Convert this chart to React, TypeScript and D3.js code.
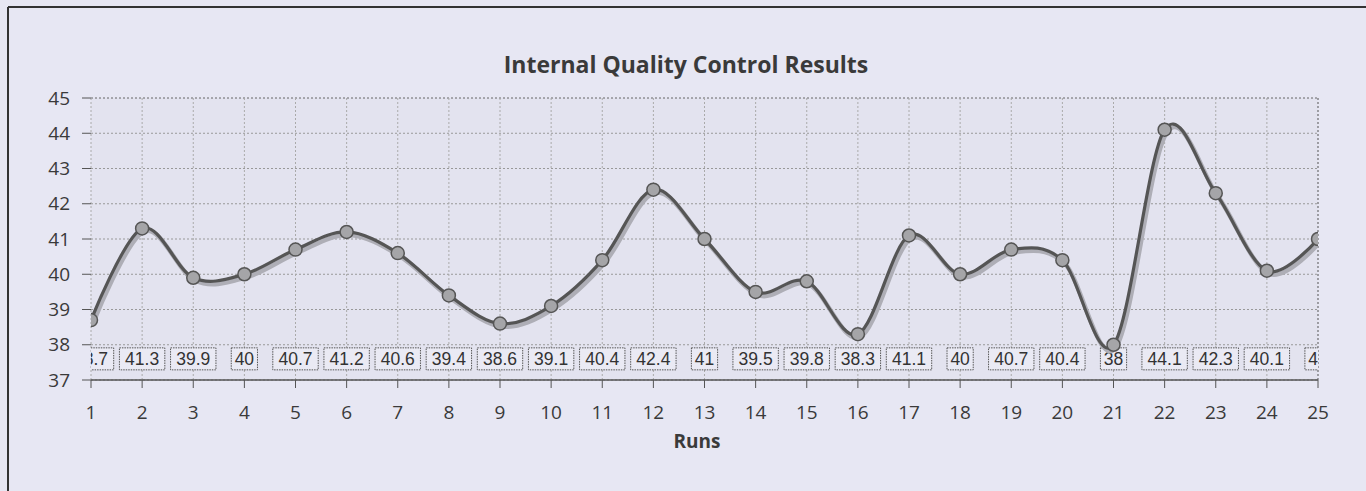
import React from "react";
import * as d3 from "d3";

const runs = [1, 2, 3, 4, 5, 6, 7, 8, 9, 10, 11, 12, 13, 14, 15, 16, 17, 18, 19, 20, 21, 22, 23, 24, 25];
const results = [38.7, 41.3, 39.9, 40, 40.7, 41.2, 40.6, 39.4, 38.6, 39.1, 40.4, 42.4, 41, 39.5, 39.8, 38.3, 41.1, 40, 40.7, 40.4, 38, 44.1, 42.3, 40.1, 41];
const yTicks = [37, 38, 39, 40, 41, 42, 43, 44, 45];
const title = "Internal Quality Control Results";
const xTitle = "Runs";

const width = 1366;
const height = 491;
const margin = { left: 91, right: 48, top: 98, bottom: 111 };

const App = () => {
    const x = d3.scaleLinear().domain([1, 25]).range([margin.left, width - margin.right]);
    const y = d3.scaleLinear().domain([37, 45]).range([height - margin.bottom, margin.top]);
    const line = d3
        .line<number>()
        .x((_, i) => x(runs[i]))
        .y((d) => y(d))
        .curve(d3.curveCatmullRom.alpha(0));
    const path = line(results) || "";
    const labelY = y(37.6);
    const x0 = x.range()[0];
    const x1 = x.range()[1];
    const y0 = y.range()[0];
    const y1 = y.range()[1];
    const tickFont = "'Open Sans', 'DejaVu Sans', sans-serif";

    // rough label box widths from text length
    const boxW = (v: number) => `${v}`.length * 9.6 + 7;

    return (
        <svg width={width} height={height} style={{ position: "absolute", left: 0, top: 0 }}>
            <defs>
                <clipPath id="plotClip">
                    <rect x={x0} y={y1} width={x1 - x0} height={y0 - y1} />
                </clipPath>
            </defs>
            <rect width={width} height={height} fill="#e7e7f3" />
            <rect x={x0} y={y1} width={x1 - x0} height={y0 - y1} fill="#e3e3ef" />
            {/* frame */}
            <line x1={8} x2={8} y1={7} y2={height} stroke="#333" strokeWidth={2} />
            <line x1={8} x2={width} y1={7} y2={7} stroke="#333" strokeWidth={2} />

            <text x={686} y={73} textAnchor="middle" fontFamily={tickFont} fontWeight="bold" fontSize={23} fill="#3a3a3a">
                {title}
            </text>

            {/* grid */}
            {yTicks.map((t) => (
                <line key={"h" + t} x1={x0} x2={x1} y1={y(t)} y2={y(t)} stroke={t === 45 ? "#666" : "#999"} strokeWidth={1} strokeDasharray="2,2" />
            ))}
            {runs.map((r) => (
                <line key={"v" + r} x1={x(r)} x2={x(r)} y1={y1} y2={y0} stroke={r === 25 ? "#555" : "#aaa"} strokeWidth={1} strokeDasharray="2,2" />
            ))}

            {/* y axis ticks */}
            {yTicks.map((t) => (
                <g key={"yt" + t}>
                    <line x1={x0 - 9} x2={x0} y1={y(t)} y2={y(t)} stroke="#555" />
                    <text x={70} y={y(t)} dy="0.35em" textAnchor="end" fontFamily={tickFont} fontSize={19} fill="#3a3a3a">
                        {t}
                    </text>
                </g>
            ))}

            {/* x axis */}
            <line x1={x0} x2={x1} y1={y0} y2={y0} stroke="#555" strokeWidth={1.5} />
            {runs.map((r) => (
                <g key={"xt" + r}>
                    <line x1={x(r)} x2={x(r)} y1={y0} y2={y0 + 8} stroke="#555" />
                    <text x={x(r)} y={419} textAnchor="middle" fontFamily={tickFont} fontSize={19} fill="#3a3a3a">
                        {r}
                    </text>
                </g>
            ))}
            <text x={697} y={448} textAnchor="middle" fontFamily={tickFont} fontWeight="bold" fontSize={19} fill="#3a3a3a">
                {xTitle}
            </text>

            {/* data labels */}
            <g clipPath="url(#plotClip)">
                {results.map((v, i) => (
                    <g key={"lb" + i}>
                        <rect
                            x={x(runs[i]) - boxW(v) / 2}
                            y={labelY - 11}
                            width={boxW(v)}
                            height={22}
                            fill="#eaeaf4"
                            stroke="#555"
                            strokeDasharray="1.5,1"
                        />
                        <text x={x(runs[i])} y={labelY} dy="0.36em" textAnchor="middle" fontFamily="'Liberation Sans', Arial, sans-serif" fontSize={17.5} fill="#333">
                            {v}
                        </text>
                    </g>
                ))}
            </g>

            {/* line with shadow */}
            <g clipPath="url(#plotClip)">
                <path d={path} transform="translate(2,3)" fill="none" stroke="#aeaeb6" strokeWidth={4.5} />
                <path d={path} fill="none" stroke="#555" strokeWidth={3.2} />
                {results.map((v, i) => (
                    <circle key={"pt" + i} cx={x(runs[i])} cy={y(v)} r={6.5} fill="#a5a5a8" stroke="#555" strokeWidth={1.5} />
                ))}
            </g>
        </svg>
    );
};

export default App;
